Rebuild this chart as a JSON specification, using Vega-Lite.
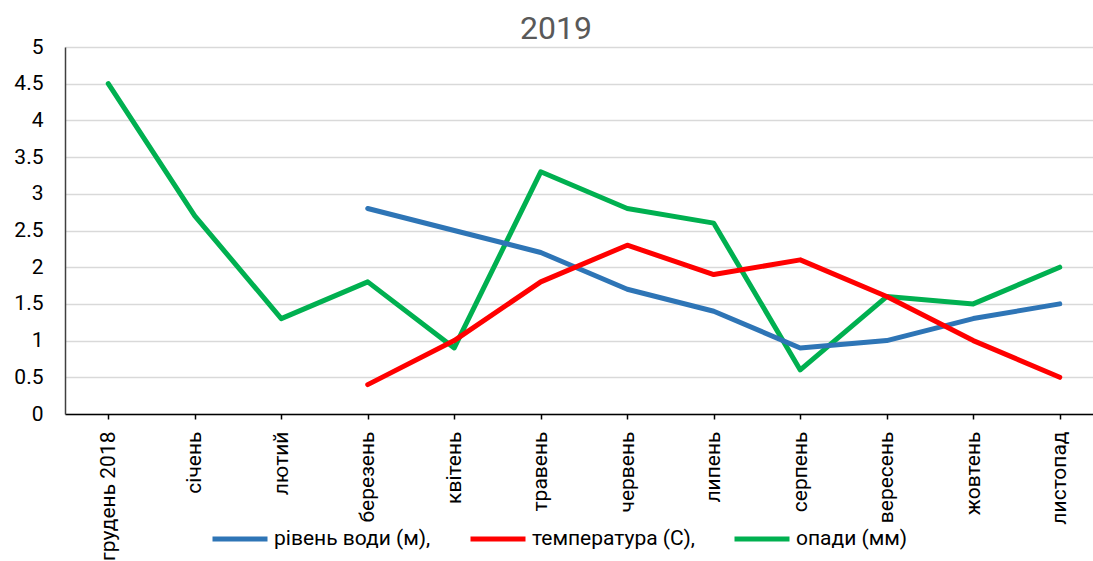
{
  "$schema": "https://vega.github.io/schema/vega-lite/v6.json",
  "width": 1028,
  "height": 367,
  "autosize": "none",
  "padding": {"left": 65, "top": 47, "right": 0, "bottom": 147},
  "background": "white",
  "title": {"text": "2019", "fontSize": 32, "font": "Roboto", "fontWeight": "normal", "color": "#595959", "anchor": "start", "frame": "group", "dx": 455, "offset": -10},
  "config": {
    "font": "Roboto",
    "view": {"stroke": null}
  },
  "data": {"values": [
    {"month": "грудень 2018", "series": "опади (мм)", "value": 4.5},
    {"month": "січень", "series": "опади (мм)", "value": 2.7},
    {"month": "лютий", "series": "опади (мм)", "value": 1.3},
    {"month": "березень", "series": "опади (мм)", "value": 1.8},
    {"month": "квітень", "series": "опади (мм)", "value": 0.9},
    {"month": "травень", "series": "опади (мм)", "value": 3.3},
    {"month": "червень", "series": "опади (мм)", "value": 2.8},
    {"month": "липень", "series": "опади (мм)", "value": 2.6},
    {"month": "серпень", "series": "опади (мм)", "value": 0.6},
    {"month": "вересень", "series": "опади (мм)", "value": 1.6},
    {"month": "жовтень", "series": "опади (мм)", "value": 1.5},
    {"month": "листопад", "series": "опади (мм)", "value": 2.0},
    {"month": "березень", "series": "рівень води (м),", "value": 2.8},
    {"month": "квітень", "series": "рівень води (м),", "value": 2.5},
    {"month": "травень", "series": "рівень води (м),", "value": 2.2},
    {"month": "червень", "series": "рівень води (м),", "value": 1.7},
    {"month": "липень", "series": "рівень води (м),", "value": 1.4},
    {"month": "серпень", "series": "рівень води (м),", "value": 0.9},
    {"month": "вересень", "series": "рівень води (м),", "value": 1.0},
    {"month": "жовтень", "series": "рівень води (м),", "value": 1.3},
    {"month": "листопад", "series": "рівень води (м),", "value": 1.5},
    {"month": "березень", "series": "температура (С),", "value": 0.4},
    {"month": "квітень", "series": "температура (С),", "value": 1.0},
    {"month": "травень", "series": "температура (С),", "value": 1.8},
    {"month": "червень", "series": "температура (С),", "value": 2.3},
    {"month": "липень", "series": "температура (С),", "value": 1.9},
    {"month": "серпень", "series": "температура (С),", "value": 2.1},
    {"month": "вересень", "series": "температура (С),", "value": 1.6},
    {"month": "жовтень", "series": "температура (С),", "value": 1.0},
    {"month": "листопад", "series": "температура (С),", "value": 0.5}
  ]},
  "mark": {"type": "line", "strokeWidth": 5, "strokeCap": "round", "strokeJoin": "round"},
  "encoding": {
    "x": {
      "field": "month", "type": "nominal",
      "sort": ["грудень 2018", "січень", "лютий", "березень", "квітень", "травень", "червень", "липень", "серпень", "вересень", "жовтень", "листопад"],
      "scale": {"paddingInner": 0, "paddingOuter": 0.5, "range": [0, 1038]},
      "axis": {
        "title": null, "labelAngle": -90, "labelAlign": "right", "labelBaseline": "middle",
        "labelFontSize": 21, "labelColor": "#000000", "labelPadding": 12,
        "domainColor": "#000000", "domainWidth": 1.5, "tickColor": "#000000", "tickWidth": 1.5, "tickSize": 5,
        "grid": false
      }
    },
    "y": {
      "field": "value", "type": "quantitative",
      "scale": {"domain": [0, 5], "nice": false},
      "axis": {
        "title": null, "values": [0, 0.5, 1, 1.5, 2, 2.5, 3, 3.5, 4, 4.5, 5],
        "labelExpr": "'' + datum.value",
        "labelFontSize": 21, "labelColor": "#000000", "labelPadding": 22, "ticks": false,
        "domainColor": "#404040", "domainWidth": 1.5,
        "gridColor": "#d9d9d9", "gridWidth": 1.3
      }
    },
    "color": {
      "field": "series", "type": "nominal",
      "scale": {"domain": ["рівень води (м),", "температура (С),", "опади (мм)"], "range": ["#2E75B6", "#FF0000", "#00B050"]},
      "legend": {
        "title": null, "orient": "none", "direction": "horizontal",
        "legendX": 145, "legendY": 462,
        "symbolType": "stroke", "symbolSize": 3025, "symbolStrokeWidth": 5,
        "labelFontSize": 21, "labelColor": "#000000", "labelOffset": 4, "labelLimit": 400, "columnPadding": 29
      }
    }
  }
}
